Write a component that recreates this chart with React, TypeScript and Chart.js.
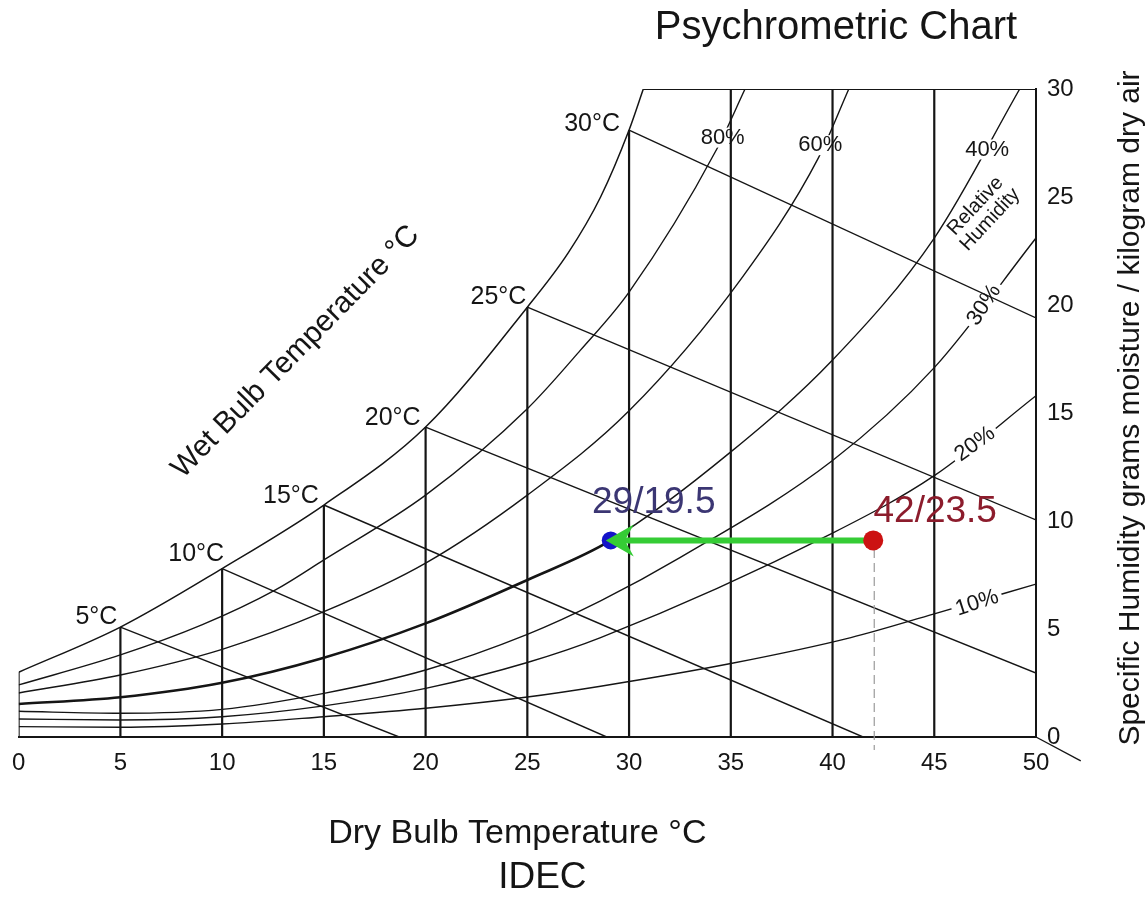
import React, { useEffect, useRef } from "react";
import { Chart, registerables } from "chart.js";

Chart.register(...registerables);

const FONT = '"Liberation Sans", Arial, Helvetica, sans-serif';
const INK = "#151515";

// ---- axes ----
const dryBulbMin = 0;
const dryBulbMax = 50;
const humidityMin = 0;
const humidityMax = 30;

// ---- saturation (100 %) curve ----
const satTemp = [0, 5, 10, 15, 20, 25, 27, 28.6, 30, 30.7];
const satHum = [3.0, 5.09, 7.8, 10.74, 14.35, 19.9, 22.4, 25.0, 28.1, 30];

// ---- relative humidity curves ----
const rh80Temp = [0, 5, 9, 12.6, 15, 20, 25, 27.6, 30, 34.3, 35.7];
const rh80Hum = [2.41, 3.8, 5.19, 6.8, 8.2, 11.2, 15.2, 17.9, 20.6, 27.2, 30];

const rh60Temp = [0, 5, 10, 15, 20, 25, 30, 35.5, 39.3, 40.8];
const rh60Hum = [2.04, 2.87, 4.06, 5.8, 8.05, 11.2, 15.1, 21.2, 26.8, 30];

const rh40Temp = [0, 5, 10, 15, 20, 25, 29.1, 35, 40, 45, 49.2];
const rh40Hum = [1.53, 1.84, 2.51, 3.67, 5.26, 7.27, 9.1, 13.2, 17.45, 23.1, 30];

const rh30Temp = [0, 5, 10, 15, 20, 25, 28.6, 32.5, 40, 45, 50];
const rh30Hum = [1.19, 1.1, 1.28, 2.02, 3.1, 4.75, 6.3, 8.3, 12.8, 17.1, 23.1];

const rh20Temp = [0, 5, 10, 15, 20, 25, 28.6, 40, 45, 50];
const rh20Hum = [0.83, 0.79, 0.94, 1.44, 2.25, 3.45, 4.6, 9.44, 12.1, 15.8];

const rh10Temp = [0, 5, 10, 15, 20, 25, 28.6, 35, 40.9, 45, 50];
const rh10Hum = [0.48, 0.45, 0.6, 0.94, 1.33, 1.85, 2.35, 3.4, 4.6, 5.7, 7.08];

// ---- wet bulb lines ----
const wetBulbTemp = [5, 10, 15, 20, 25, 30];
const wetBulbStartHum = [5.09, 7.8, 10.74, 14.35, 19.9, 28.1];
const wetBulbEndTemp = [18.7, 28.9, 41.5, 50, 50, 50];
const wetBulbEndHum = [0, 0, 0, 2.96, 10.05, 19.4];

// ---- dry bulb verticals ----
const dryBulbLineTemp = [5, 10, 15, 20, 25, 30, 35, 40, 45];
const dryBulbLineTop = [5.09, 7.8, 10.74, 14.35, 19.9, 28.1, 30, 30, 30];

// ---- process (evaporative cooling) ----
const stateTemp = [42, 29.1];
const stateHum = [9.1, 9.1];
const stateLabels = ["42/23.5", "29/19.5"];

// ---- relative humidity labels ----
const rhLabelText = ["80%", "60%", "40%", "30%", "20%", "10%"];
const rhLabelTemp = [34.6, 39.4, 47.6, 47.45, 47.0, 47.1];
const rhLabelHum = [27.75, 27.4, 27.2, 20.0, 13.56, 6.2];
const rhLabelAngle = [0, 0, 0, -57, -36, -18];

const pts = (xs: number[], ys: number[]) => xs.map((x, i) => ({ x, y: ys[i] }));

function drawText(
  ctx: CanvasRenderingContext2D,
  text: string,
  x: number,
  y: number,
  size: number,
  opts: { color?: string; align?: CanvasTextAlign; rot?: number } = {}
) {
  const { color = INK, align = "center", rot = 0 } = opts;
  ctx.save();
  ctx.translate(x, y);
  ctx.rotate((rot * Math.PI) / 180);
  ctx.font = `${size}px ${FONT}`;
  ctx.textAlign = align;
  ctx.textBaseline = "middle";
  ctx.fillStyle = color;
  ctx.fillText(text, 0, 0);
  ctx.restore();
}

const RH_FONT = 22;
// small per-label nudges (px) for the wet bulb labels
const wbNudgeX = [0, 5, -2, -2, 2, -6];
const wbNudgeY = [0, -4, 1, 1, 0, 4];

const overlay = {
  id: "psyOverlay",
  afterDatasetDraw(chart: any, args: any) {
    // after the last humidity curve is drawn: blank the spots where the % labels sit
    if (args.index !== 0) return;
    const { ctx, scales } = chart;
    const X = (v: number) => scales.x.getPixelForValue(v);
    const Y = (v: number) => scales.y.getPixelForValue(v);
    rhLabelText.forEach((t, i) => {
      ctx.save();
      ctx.translate(X(rhLabelTemp[i]), Y(rhLabelHum[i]));
      ctx.rotate((rhLabelAngle[i] * Math.PI) / 180);
      ctx.font = `${RH_FONT}px ${FONT}`;
      const w = ctx.measureText(t).width;
      ctx.fillStyle = "#ffffff";
      ctx.fillRect(-w / 2 - 4, -10, w + 8, 20);
      ctx.restore();
    });
  },
  afterDatasetsDraw(chart: any) {
    const { ctx, scales } = chart;
    const X = (v: number) => scales.x.getPixelForValue(v);
    const Y = (v: number) => scales.y.getPixelForValue(v);

    // humidity labels
    rhLabelText.forEach((t, i) => {
      drawText(ctx, t, X(rhLabelTemp[i]), Y(rhLabelHum[i]), RH_FONT, { rot: rhLabelAngle[i] });
    });
    // "Relative Humidity"
    ctx.save();
    ctx.translate(X(47.35), Y(24.3));
    ctx.rotate((-47 * Math.PI) / 180);
    ctx.font = `20px ${FONT}`;
    ctx.fillStyle = INK;
    ctx.textAlign = "center";
    ctx.textBaseline = "middle";
    ctx.fillText("Relative", 0, -9);
    ctx.fillText("Humidity", 0, 11);
    ctx.restore();

    // wet bulb labels
    wetBulbTemp.forEach((t, i) => {
      drawText(ctx, `${t}°C`, X(t) - 3 + wbNudgeX[i], Y(wetBulbStartHum[i]) - 10 + wbNudgeY[i], 25, {
        align: "right",
      });
    });

    // state labels
    const rx = X(stateTemp[0]);
    const ry = Y(stateHum[0]);
    const bx = X(stateTemp[1]);
    const by = Y(stateHum[1]);
    drawText(ctx, stateLabels[0], rx + 62, ry - 29, 37, { color: "#8c1c2c" });
    drawText(ctx, stateLabels[1], bx + 43, by - 38, 37, { color: "#3b3673" });

    // arrow head at the cooled state
    ctx.save();
    ctx.fillStyle = "#35cc35";
    ctx.beginPath();
    ctx.moveTo(bx - 5, by);
    ctx.lineTo(bx + 23, by - 16);
    ctx.lineTo(bx + 14, by);
    ctx.lineTo(bx + 23, by + 16);
    ctx.closePath();
    ctx.fill();
    ctx.restore();
  },
  afterDraw(chart: any) {
    const { ctx, chartArea } = chart;
    const { left, right, top, bottom } = chartArea;
    drawText(ctx, "Psychrometric Chart", right - 200, top - 61, 40);
    drawText(ctx, "Dry Bulb Temperature °C", (left + right) / 2 - 10, bottom + 97, 34);
    drawText(ctx, "IDEC", (left + right) / 2 + 15, bottom + 141, 37);
    drawText(ctx, "Specific Humidity grams moisture / kilogram dry air", right + 95, (top + bottom) / 2 - 5, 30, {
      rot: -90,
    });
    drawText(ctx, "Wet Bulb Temperature °C", left + 277, top + 263, 30, { rot: -45.6 });
  },
};

export default function App() {
  const ref = useRef<HTMLCanvasElement | null>(null);

  useEffect(() => {
    if (!ref.current) return;

    const curve = (xs: number[], ys: number[], extra: any = {}) => ({
      type: "line",
      data: pts(xs, ys),
      borderColor: INK,
      borderWidth: 1.4,
      pointRadius: 0,
      fill: false,
      cubicInterpolationMode: "monotone",
      order: 100,
      ...extra,
    });
    const straight = (data: { x: number; y: number }[], extra: any = {}) => ({
      type: "line",
      data,
      borderColor: INK,
      borderWidth: 1.4,
      pointRadius: 0,
      fill: false,
      tension: 0,
      order: 50,
      ...extra,
    });

    const datasets: any[] = [
      curve(satTemp, satHum, { borderWidth: 1.5 }),
      curve(rh80Temp, rh80Hum),
      curve(rh60Temp, rh60Hum),
      curve(rh40Temp, rh40Hum, {
        segment: { borderWidth: (c: any) => (c.p1.parsed.x <= stateTemp[1] + 0.01 ? 2.6 : 1.4) },
      }),
      curve(rh30Temp, rh30Hum),
      curve(rh20Temp, rh20Hum),
      curve(rh10Temp, rh10Hum),
    ];

    dryBulbLineTemp.forEach((t, i) => {
      datasets.push(straight([{ x: t, y: humidityMin }, { x: t, y: dryBulbLineTop[i] }], { borderWidth: 2.2 }));
    });
    wetBulbTemp.forEach((t, i) => {
      datasets.push(
        straight([
          { x: t, y: wetBulbStartHum[i] },
          { x: wetBulbEndTemp[i], y: wetBulbEndHum[i] },
        ])
      );
    });
    // frame pieces
    datasets.push(straight([{ x: dryBulbMin, y: humidityMin }, { x: dryBulbMin, y: satHum[0] }], { borderWidth: 2 }));
    datasets.push(
      straight([{ x: satTemp[satTemp.length - 1], y: humidityMax }, { x: dryBulbMax, y: humidityMax }], { borderWidth: 2 })
    );
    datasets.push(straight([{ x: dryBulbMax, y: humidityMin }, { x: 52.2, y: -1.1 }], { clip: false }));
    // dashed drop line from hot state
    datasets.push(
      straight([{ x: stateTemp[0] + 0.05, y: stateHum[0] - 0.4 }, { x: stateTemp[0] + 0.05, y: -0.6 }], {
        borderColor: "#9a9a9a",
        borderWidth: 1.2,
        borderDash: [9, 5],
        clip: false,
        order: 5,
      })
    );
    // process arrow shaft
    datasets.push(straight(pts(stateTemp, stateHum), { borderColor: "#35cc35", borderWidth: 6, order: 3 }));
    // states
    datasets.push({
      type: "scatter",
      data: [{ x: stateTemp[0], y: stateHum[0] }],
      pointRadius: 10,
      pointBackgroundColor: "#cc1212",
      pointBorderWidth: 0,
      order: 1,
    });
    datasets.push({
      type: "scatter",
      data: [{ x: stateTemp[1], y: stateHum[1] }],
      pointRadius: 9,
      pointBackgroundColor: "#1414c8",
      pointBorderWidth: 0,
      order: 2,
    });

    const chart = new Chart(ref.current, {
      type: "scatter",
      data: { datasets },
      options: {
        responsive: false,
        animation: false,
        events: [],
        layout: { padding: { left: 17, top: 89, right: 62, bottom: 142 } },
        plugins: {
          legend: { display: false },
          tooltip: { enabled: false },
          title: { display: false },
        },
        scales: {
          x: {
            type: "linear",
            position: "bottom",
            min: dryBulbMin,
            max: dryBulbMax,
            afterFit: (s: any) => {
              s.height = 40;
            },
            grid: { display: false, drawTicks: false },
            border: { display: true, color: INK, width: 2 },
            ticks: {
              stepSize: 5,
              padding: 12,
              color: INK,
              font: { family: FONT, size: 24 },
              maxRotation: 0,
              autoSkip: false,
            },
          },
          y: {
            type: "linear",
            position: "right",
            min: humidityMin,
            max: humidityMax,
            afterFit: (s: any) => {
              s.width = 50;
            },
            grid: { display: false, drawTicks: false },
            border: { display: true, color: INK, width: 2 },
            ticks: {
              stepSize: 5,
              padding: 11,
              color: INK,
              font: { family: FONT, size: 24 },
            },
          },
        },
      } as any,
      plugins: [overlay],
    } as any);

    return () => chart.destroy();
  }, []);

  return (
    <div style={{ position: "absolute", left: 0, top: 0, width: 1148, height: 919, background: "#fff" }}>
      <canvas ref={ref} width={1148} height={919} style={{ display: "block" }} />
    </div>
  );
}
